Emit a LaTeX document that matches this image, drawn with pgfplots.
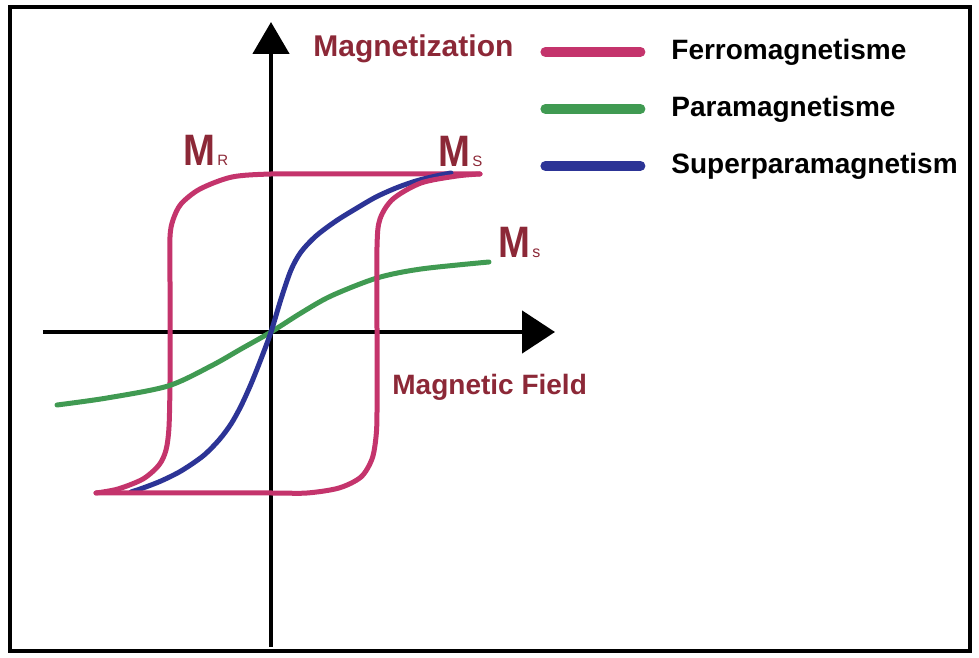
\documentclass[border=0pt]{standalone}
\usepackage{fontspec}
\setmainfont{Liberation Sans}
\usepackage{pgfplots}
\pgfplotsset{compat=1.18}
\usetikzlibrary{arrows.meta}

\definecolor{ferro}{RGB}{196,52,108}
\definecolor{para}{RGB}{64,154,82}
\definecolor{superp}{RGB}{44,52,150}
\definecolor{labelred}{RGB}{140,40,55}

\begin{document}
\begin{tikzpicture}
\begin{axis}[
  x=50pt, y=50pt,
  xmin=-2.28, xmax=2.84, ymin=-3.15, ymax=3.10,
  axis lines=middle,
  xtick=\empty, ytick=\empty,
  enlargelimits=false,
  clip=false,
  axis line style={line width=2.4pt, black},
  x axis line style={-{Triangle[length=16.5pt,width=21pt]}},
  y axis line style={-{Triangle[length=16pt,width=18pt]}},
  legend style={draw=none, fill=none, at={(axis cs:2.63,3.02)}, anchor=north west,
    font=\fontsize{14}{16}\selectfont\bfseries, row sep=11pt,
    nodes={inner sep=2pt, text height=10.5pt, text depth=3pt},
    /tikz/column sep=11pt},
  legend cell align=left,
  legend image code/.code={\draw[#1, line width=5pt, line cap=round] (2.5pt,0pt) -- (50pt,0pt);},
  every axis plot/.append style={line width=2.5pt, line cap=round, line join=round},
]

% Ferromagnetic hysteresis loop: descending branch
\addplot[ferro, smooth, tension=0.5] coordinates {
  (2.09,1.58) (1.5,1.58) (0.5,1.58) (0,1.58) (-0.39,1.55) (-0.71,1.43)
  (-0.90,1.28) (-0.98,1.12) (-1.01,0.95) (-1.01,0.5) (-1.01,0) (-1.01,-0.5)
  (-1.02,-0.95) (-1.05,-1.18) (-1.12,-1.33) (-1.28,-1.47) (-1.53,-1.57) (-1.75,-1.61)
};
\addlegendentry{Ferromagnetisme}

% Paramagnetic response
\addplot[para, smooth] coordinates {
  (-2.14,-0.73) (-1.64,-0.66) (-1.03,-0.54) (-0.6,-0.34) (-0.3,-0.17) (0,0)
  (0.3,0.19) (0.6,0.36) (1.06,0.54) (1.5,0.63) (2.18,0.70)
};
\addlegendentry{Paramagnetisme}

% Superparamagnetic response
\addplot[superp, smooth] coordinates {
  (-1.40,-1.60) (-1.28,-1.56) (-1.10,-1.49) (-0.90,-1.39) (-0.68,-1.24)
  (-0.52,-1.08) (-0.40,-0.92) (-0.30,-0.74) (-0.20,-0.52) (-0.10,-0.27) (0,0)
  (0.10,0.33) (0.20,0.62) (0.30,0.80) (0.45,0.96) (0.65,1.11) (0.86,1.24)
  (1.05,1.35) (1.25,1.44) (1.45,1.51) (1.65,1.56) (1.80,1.59)
};
\addlegendentry{Superparamagnetism}

% Ferromagnetic hysteresis loop: ascending branch
\addplot[ferro, smooth, tension=0.5, forget plot] coordinates {
  (-1.75,-1.61) (-1.5,-1.61) (-1.0,-1.61) (0,-1.61) (0.36,-1.61) (0.68,-1.56)
  (0.90,-1.45) (1.01,-1.27) (1.05,-1.05) (1.06,-0.8) (1.06,0) (1.06,0.85)
  (1.09,1.13) (1.22,1.33) (1.5,1.49) (1.86,1.56) (2.09,1.58)
};

% Axis names and saturation / remanence markers
\node[anchor=base west, inner sep=0pt, text=labelred, font=\fontsize{15}{17}\selectfont\bfseries]
  at (axis cs:0.42,2.75) {Magnetization};
\node[anchor=base west, inner sep=0pt, text=labelred, font=\fontsize{14}{16}\selectfont\bfseries]
  at (axis cs:1.21,-0.63) {Magnetic Field};
\node[anchor=base west, inner sep=0pt, text=labelred]
  at (axis cs:-0.88,1.66) {\scalebox{0.87}[1]{\fontsize{22}{22}\selectfont\bfseries M}\kern1pt{\fontsize{7.5}{8}\selectfont R}};
\node[anchor=base west, inner sep=0pt, text=labelred]
  at (axis cs:1.67,1.65) {\scalebox{0.87}[1]{\fontsize{22}{22}\selectfont\bfseries M}\kern1pt{\fontsize{7.5}{8}\selectfont S}};
\node[anchor=base west, inner sep=0pt, text=labelred]
  at (axis cs:2.27,0.74) {\scalebox{0.87}[1]{\fontsize{22}{22}\selectfont\bfseries M}\kern1pt{\fontsize{8}{8}\selectfont s}};

% Frame
\draw[line width=1.6pt, black] (axis cs:-2.61,-3.19) rectangle (axis cs:6.99,3.25);
\path (axis cs:-2.71,-3.26) rectangle (axis cs:7.08,3.32);
\end{axis}
\end{tikzpicture}
\end{document}
